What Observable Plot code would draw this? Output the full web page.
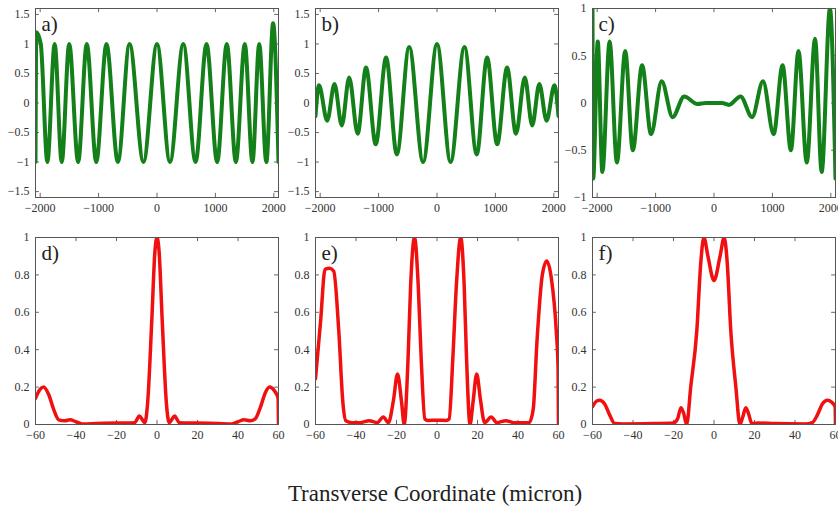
<!DOCTYPE html>
<html><head><meta charset="utf-8">
<script src="https://cdn.jsdelivr.net/npm/d3@7"></script>
<script src="https://cdn.jsdelivr.net/npm/@observablehq/plot@0.6"></script>
<style>
body{margin:0;background:#fff;}
#fig{position:relative;width:838px;height:508px;overflow:hidden;font-family:"Liberation Serif",serif;background:#fff;}
#fig svg, #fig svg text{font-family:"Liberation Serif",serif !important;}
.panel{position:absolute;}
#xlabel{position:absolute;left:135px;width:600px;top:482px;text-align:center;font-size:23px;line-height:23px;color:#222;}
</style></head><body>
<div id="fig"><div id="xlabel">Transverse Coordinate (micron)</div></div>
<script>
// ---- tick values ----
const topXTicks = [-2000, -1000, 0, 1000, 2000];
const abYTicks = [-1.5, -1, -0.5, 0, 0.5, 1, 1.5];
const cYTicks = [-1, -0.5, 0, 0.5, 1];
const botXTicks = [-60, -40, -20, 0, 20, 40, 60];
const botYTicks = [0, 0.2, 0.4, 0.6, 0.8, 1];
const panelLabels = ["a)", "b)", "c)", "d)", "e)", "f)"];

// ---- panel a ----
const aX = [-2080, -2066, -1990, -1877, -1752, -1631, -1503, -1350, -1202, -1040, -865, -670, -470, -232, 0, 222, 450, 660, 848, 1030, 1195, 1350, 1503, 1634, 1750, 1872, 1988, 2080];
const aY = [-1, 1.2, 1, -1, 1, -1, 1, -1, 1, -1, 1, -1, 1, -1, 1, -1, 1, -1, 1, -1, 1, -1, 1, -1, 1, -1, 1.35, -1];
// ---- panel b ----
const bX = [-2080, -2020, -1880, -1755, -1630, -1503, -1358, -1215, -1049, -872, -688, -476, -238, 0, 232, 470, 680, 858, 1030, 1200, 1352, 1503, 1630, 1752, 1876, 2010, 2080];
const bY = [-0.22, 0.3, -0.3, 0.32, -0.38, 0.43, -0.52, 0.6, -0.7, 0.77, -0.87, 0.95, -1, 1, -1, 0.95, -0.87, 0.77, -0.7, 0.6, -0.52, 0.43, -0.38, 0.32, -0.3, 0.3, -0.22];
// ---- panel c ----
const cX = [-2080, -2068, -1990, -1911, -1787, -1662, -1520, -1390, -1231, -1078, -896, -709, -510, -284, -140, 140, 255, 454, 652, 839, 1021, 1174, 1316, 1446, 1588, 1730, 1843, 1985, 2080];
const cY = [1.0, -0.8, 0.65, -0.73, 0.65, -0.63, 0.55, -0.5, 0.4, -0.33, 0.23, -0.15, 0.07, -0.01, 0, 0, -0.02, 0.07, -0.15, 0.23, -0.33, 0.4, -0.5, 0.55, -0.63, 0.68, -0.73, 1.0, -0.8];
// ---- panel d ----
const dX = [-60, -58, -56, -53.5, -51, -48.5, -45.5, -43, -40, -37, -30, -20, -11, -8.7, -7.2, -6, -4.6, -2.6, -1, 0, 1, 2.6, 4.6, 6, 7.2, 8.7, 11, 20, 30, 37, 40, 43, 46, 48.5, 51, 53.5, 55.5, 58, 59.8, 60];
const dY = [0.14, 0.185, 0.2, 0.16, 0.08, 0.025, 0.02, 0.025, 0.015, 0.003, 0.005, 0.008, 0.01, 0.045, 0.025, 0.01, 0.12, 0.55, 0.93, 1, 0.93, 0.55, 0.12, 0.01, 0.025, 0.045, 0.01, 0.008, 0.005, 0.003, 0.015, 0.025, 0.02, 0.03, 0.09, 0.17, 0.2, 0.18, 0.14, 0];
// ---- panel e ----
const eX = [-60, -57.5, -55.3, -53, -51, -48.5, -46.5, -45, -42, -38, -33.5, -29.5, -26.5, -24, -21.5, -19.5, -17.5, -16.2, -14.3, -13, -11.1, -9.3, -7.8, -6, -4.5, 0, 4.5, 6, 7.8, 9.6, 11.7, 13.4, 14.6, 16.3, 17.8, 19.6, 21.5, 23.5, 26.8, 29.5, 34, 38, 45.5, 47.5, 49.4, 52, 54.2, 56.5, 58.9, 59.8, 60];
const eY = [0.245, 0.55, 0.83, 0.835, 0.82, 0.5, 0.12, 0.02, 0.01, 0.01, 0.02, 0.01, 0.04, 0.01, 0.13, 0.27, 0.12, 0.0, 0.35, 0.75, 1.0, 0.75, 0.35, 0.03, 0.022, 0.023, 0.022, 0.03, 0.35, 0.75, 1.0, 0.75, 0.35, 0.0, 0.12, 0.27, 0.13, 0.01, 0.04, 0.01, 0.02, 0.01, 0.01, 0.08, 0.45, 0.8, 0.875, 0.78, 0.5, 0.3, 0];
// ---- panel f ----
const fX = [-60, -58, -56.5, -54, -51.5, -49, -45, -30, -20, -18, -16.3, -15, -13.5, -11.5, -8.5, -6.5, -5, -3, 0, 3, 5, 6.5, 8.3, 10.8, 12.8, 14.2, 15.7, 17, 18.7, 22, 30, 45, 48.5, 51, 53.5, 56, 58, 59.8, 60];
const fY = [0.095, 0.125, 0.13, 0.11, 0.05, 0.005, 0.003, 0.005, 0.008, 0.03, 0.09, 0.06, 0.0, 0.2, 0.5, 0.87, 1.0, 0.9, 0.77, 0.9, 1.0, 0.87, 0.5, 0.2, 0.0, 0.04, 0.09, 0.06, 0.005, 0.008, 0.005, 0.003, 0.01, 0.05, 0.11, 0.13, 0.12, 0.095, 0];

const GREEN = "#13801a";
const RED = "#f01010";
const fmt = d => (d < 0 ? "\u2212" : "") + String(Math.abs(d));

function panel({left, top, H, xs, ys, xDomain, yDomain, xTicks, yTicks, color, sw, label}) {
  const data = xs.map((x, i) => ({x, y: ys[i]}));
  const W = 243;
  const [x0, x1] = xDomain, [y0, y1] = yDomain;
  const tx = (x1 - x0) * 0.016, ty = (y1 - y0) * 0.022;
  const svg = Plot.plot({
    width: 35 + W + 2, height: 8 + H + 24,
    marginLeft: 35, marginRight: 2, marginTop: 8, marginBottom: 24,
    style: {background: "transparent", fontFamily: "'Liberation Serif', serif", fontSize: "12px", color: "#333", overflow: "visible"},
    x: {domain: xDomain, ticks: xTicks, tickSize: 0, tickPadding: 6, tickFormat: fmt, label: null},
    y: {domain: yDomain, ticks: yTicks, tickSize: 0, tickPadding: 6, tickFormat: fmt, label: null},
    marks: [
      Plot.ruleX(xTicks, {x: d => d, y1: y0, y2: y0 + ty, stroke: "#666"}),
      Plot.ruleX(xTicks, {x: d => d, y1: y1, y2: y1 - ty, stroke: "#666"}),
      Plot.ruleY(yTicks, {y: d => d, x1: x0, x2: x0 + tx, stroke: "#666"}),
      Plot.ruleY(yTicks, {y: d => d, x1: x1, x2: x1 - tx, stroke: "#666"}),
      Plot.line(data, {x: "x", y: "y", stroke: color, strokeWidth: sw, curve: "monotone-x", clip: true}),
      Plot.frame({stroke: "#555"}),
      Plot.text([label], {text: d => d, frameAnchor: "top-left", dx: 6, dy: 8, fontSize: 21, lineAnchor: "top", textAnchor: "start", fill: "#222"})
    ]
  });
  const div = document.createElement("div");
  div.className = "panel";
  div.style.left = left + "px";
  div.style.top = top + "px";
  div.appendChild(svg);
  document.getElementById("fig").appendChild(div);
}

const topDom = [-2080, 2080];
panel({left: 0, top: 0, H: 189, xs: aX, ys: aY, xDomain: topDom, yDomain: [-1.6, 1.6], xTicks: topXTicks, yTicks: abYTicks, color: GREEN, sw: 4, label: panelLabels[0]});
panel({left: 280, top: 0, H: 189, xs: bX, ys: bY, xDomain: topDom, yDomain: [-1.6, 1.6], xTicks: topXTicks, yTicks: abYTicks, color: GREEN, sw: 4, label: panelLabels[1]});
panel({left: 557, top: 0, H: 189, xs: cX, ys: cY, xDomain: topDom, yDomain: [-1, 1], xTicks: topXTicks, yTicks: cYTicks, color: GREEN, sw: 4, label: panelLabels[2]});
panel({left: 0, top: 229, H: 187, xs: dX, ys: dY, xDomain: [-60, 60], yDomain: [0, 1], xTicks: botXTicks, yTicks: botYTicks, color: RED, sw: 3.5, label: panelLabels[3]});
panel({left: 280, top: 229, H: 187, xs: eX, ys: eY, xDomain: [-60, 60], yDomain: [0, 1], xTicks: botXTicks, yTicks: botYTicks, color: RED, sw: 3.5, label: panelLabels[4]});
panel({left: 557, top: 229, H: 187, xs: fX, ys: fY, xDomain: [-60, 60], yDomain: [0, 1], xTicks: botXTicks, yTicks: botYTicks, color: RED, sw: 3.5, label: panelLabels[5]});
</script>
</body></html>
